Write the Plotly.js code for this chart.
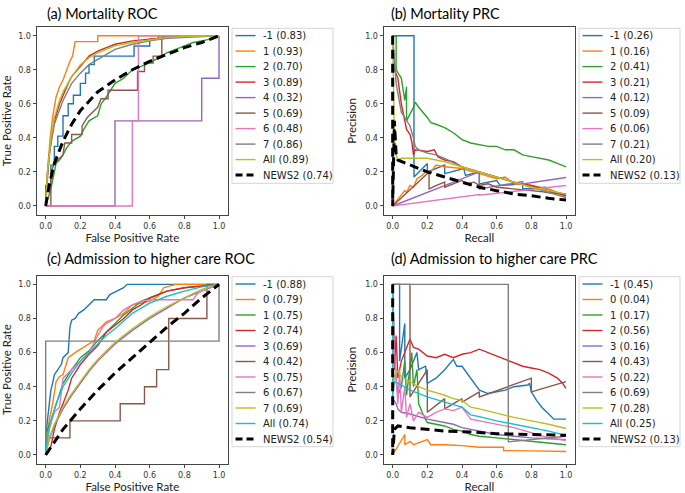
<!DOCTYPE html>
<html>
<head>
<meta charset="utf-8">
<script src="https://cdn.plot.ly/plotly-3.0.1.min.js"></script>
<style>
  body { margin: 0; background: #fff; }
  #chart { width: 685px; height: 493px; }
</style>
</head>
<body>
<div id="chart"></div>
<script>
// matplotlib tab10
const tab10 = ['#1f77b4', '#ff7f0e', '#2ca02c', '#d62728', '#9467bd', '#8c564b', '#e377c2', '#7f7f7f', '#bcbd22', '#17becf'];

// ---- (a) Mortality ROC : [fpr, tpr]
const labelsA = ['-1', '1', '2', '3', '4', '5', '6', '7', 'All', 'NEWS2'];
const aucA = [0.83, 0.93, 0.70, 0.89, 0.32, 0.69, 0.48, 0.86, 0.89, 0.74];
const rocA_neg1 = [[0,0],[0,0.12],[0.03,0.12],[0.03,0.24],[0.05,0.24],[0.05,0.35],[0.07,0.35],[0.07,0.41],[0.1,0.41],[0.1,0.53],[0.13,0.53],[0.13,0.6],[0.16,0.6],[0.16,0.65],[0.2,0.65],[0.2,0.72],[0.23,0.72],[0.23,0.78],[0.25,0.78],[0.25,0.83],[0.28,0.83],[0.28,0.88],[0.51,0.88],[0.51,0.94],[0.6,0.94],[0.6,0.98],[0.65,0.98],[0.65,1],[1,1]];
const rocA_1 = [[0,0],[0.01,0.2],[0.025,0.39],[0.04,0.52],[0.06,0.64],[0.08,0.7],[0.1,0.74],[0.12,0.8],[0.14,0.85],[0.155,0.88],[0.17,0.965],[0.3,0.965],[0.3,1],[1,1]];
const rocA_2 = [[0,0],[0.03,0.1],[0.04,0.15],[0.05,0.2],[0.06,0.25],[0.08,0.27],[0.1,0.3],[0.12,0.34],[0.15,0.38],[0.2,0.41],[0.22,0.45],[0.25,0.5],[0.3,0.53],[0.32,0.6],[0.35,0.64],[0.4,0.72],[0.45,0.75],[0.5,0.8],[0.55,0.82],[0.6,0.84],[0.65,0.87],[0.7,0.9],[0.75,0.92],[0.8,0.94],[0.85,0.96],[0.9,0.97],[0.95,0.98],[1,1]];
const rocA_3 = [[0,0],[0.01,0.18],[0.03,0.38],[0.05,0.5],[0.08,0.6],[0.1,0.65],[0.13,0.72],[0.15,0.76],[0.18,0.8],[0.2,0.82],[0.25,0.88],[0.3,0.91],[0.35,0.93],[0.4,0.95],[0.5,0.97],[0.6,0.98],[0.7,0.99],[0.8,1],[1,1]];
const rocA_4 = [[0,0],[0.4,0],[0.4,0.5],[0.9,0.5],[0.9,0.75],[1,0.75],[1,1]];
const rocA_5 = [[0,0],[0.03,0],[0.03,0.2],[0.05,0.25],[0.1,0.3],[0.11,0.37],[0.15,0.37],[0.15,0.42],[0.21,0.42],[0.21,0.47],[0.24,0.52],[0.3,0.58],[0.32,0.63],[0.36,0.63],[0.36,0.68],[0.53,0.68],[0.53,0.79],[0.57,0.79],[0.57,0.84],[0.62,0.84],[0.62,0.88],[0.67,0.88],[0.67,0.98],[0.68,1],[1,1]];
const rocA_6 = [[0,0],[0.5,0],[0.5,0.5],[0.535,0.5],[0.535,1],[1,1]];
const rocA_7 = [[0,0],[0.02,0.3],[0.05,0.48],[0.1,0.62],[0.15,0.72],[0.2,0.78],[0.25,0.83],[0.3,0.86],[0.4,0.92],[0.5,0.95],[0.6,0.97],[0.7,0.985],[1,1]];
const rocA_all = [[0,0],[0.01,0.2],[0.03,0.4],[0.05,0.52],[0.08,0.62],[0.1,0.67],[0.15,0.76],[0.2,0.83],[0.25,0.87],[0.3,0.9],[0.4,0.94],[0.5,0.96],[0.6,0.975],[0.7,0.99],[0.8,0.995],[1,1]];
const rocA_news = [[0,0],[0.02,0.12],[0.05,0.25],[0.1,0.38],[0.15,0.48],[0.2,0.56],[0.3,0.67],[0.4,0.74],[0.5,0.8],[0.6,0.85],[0.7,0.89],[0.8,0.93],[0.9,0.96],[1,1]];

// ---- (b) Mortality PRC : [recall, precision]
const aucB = [0.26, 0.16, 0.41, 0.21, 0.12, 0.09, 0.06, 0.21, 0.20, 0.13];
const prcB_neg1 = [[0,1],[0.123,1],[0.123,0.17],[0.2,0.25],[0.2,0.2],[0.3,0.24],[0.3,0.19],[0.41,0.22],[0.42,0.18],[0.5,0.2],[0.5,0.13],[0.6,0.15],[0.62,0.12],[0.75,0.13],[0.75,0.1],[0.88,0.11],[0.88,0.08],[1,0.07]];
const prcB_1 = [[0,0],[0.03,0.04],[0.05,0.07],[0.07,0.09],[0.08,0.08],[0.1,0.12],[0.12,0.11],[0.14,0.16],[0.17,0.18],[0.2,0.21],[0.22,0.2],[0.25,0.24],[0.3,0.23],[0.4,0.22],[0.5,0.19],[0.6,0.16],[0.65,0.17],[0.7,0.13],[0.8,0.12],[0.9,0.1],[1,0.06]];
const prcB_2 = [[0,1],[0.02,1],[0.02,0.8],[0.05,0.75],[0.07,0.62],[0.08,0.7],[0.08,0.5],[0.12,0.58],[0.13,0.61],[0.15,0.58],[0.2,0.52],[0.22,0.49],[0.25,0.48],[0.3,0.46],[0.35,0.43],[0.4,0.39],[0.45,0.37],[0.5,0.36],[0.55,0.35],[0.6,0.35],[0.65,0.33],[0.7,0.33],[0.75,0.3],[0.8,0.29],[0.85,0.28],[0.9,0.27],[0.95,0.25],[1,0.23]];
const prcB_3 = [[0,1],[0.01,0.8],[0.03,0.75],[0.05,0.6],[0.07,0.5],[0.08,0.45],[0.1,0.42],[0.11,0.38],[0.12,0.3],[0.13,0.33],[0.2,0.32],[0.24,0.33],[0.26,0.29],[0.3,0.27],[0.35,0.26],[0.4,0.23],[0.5,0.2],[0.6,0.17],[0.7,0.14],[0.8,0.12],[0.9,0.09],[1,0.06]];
const prcB_4 = [[0,0],[0.5,0.2],[0.5,0.1],[0.75,0.143],[0.75,0.13],[1,0.167]];
const prcB_5 = [[0,0],[0.21,0.2],[0.21,0.1],[0.25,0.12],[0.3,0.14],[0.3,0.11],[0.35,0.13],[0.4,0.15],[0.42,0.13],[0.47,0.14],[0.5,0.12],[0.55,0.13],[0.6,0.11],[0.7,0.1],[0.8,0.09],[0.9,0.08],[1,0.07]];
const prcB_6 = [[0,0.3],[0,0],[0.5,0.067],[0.5,0.063],[1,0.12]];
const prcB_7 = [[0,1],[0.02,0.72],[0.05,0.55],[0.08,0.5],[0.1,0.47],[0.12,0.4],[0.13,0.35],[0.15,0.33],[0.2,0.31],[0.25,0.3],[0.3,0.28],[0.4,0.23],[0.5,0.2],[0.6,0.17],[0.7,0.14],[0.8,0.11],[0.9,0.08],[1,0.05]];
const prcB_all = [[0,1],[0.01,0.4],[0.02,0.3],[0.03,0.27],[0.05,0.28],[0.1,0.28],[0.15,0.28],[0.2,0.28],[0.3,0.26],[0.4,0.23],[0.5,0.2],[0.6,0.17],[0.7,0.14],[0.8,0.11],[0.9,0.09],[1,0.07]];
const prcB_news = [[0,1],[0,0],[0.01,0.5],[0.02,0.3],[0.03,0.27],[0.1,0.24],[0.2,0.2],[0.3,0.17],[0.4,0.14],[0.5,0.11],[0.6,0.09],[0.7,0.07],[0.8,0.06],[0.9,0.045],[1,0.035]];

// ---- (c) Admission to higher care ROC
const labelsC = ['-1', '0', '1', '2', '3', '4', '5', '6', '7', 'All', 'NEWS2'];
const aucC = [0.88, 0.79, 0.75, 0.74, 0.69, 0.42, 0.75, 0.67, 0.69, 0.74, 0.54];
const rocC_neg1 = [[0,0],[0,0.1],[0.01,0.2],[0.02,0.3],[0.03,0.38],[0.04,0.42],[0.05,0.47],[0.07,0.5],[0.09,0.53],[0.1,0.57],[0.13,0.6],[0.14,0.75],[0.15,0.79],[0.17,0.8],[0.19,0.83],[0.22,0.85],[0.25,0.88],[0.28,0.91],[0.35,0.91],[0.37,0.94],[0.41,0.96],[0.45,0.98],[0.47,1],[1,1]];
const rocC_0 = [[0,0],[0.01,0.13],[0.02,0.2],[0.04,0.3],[0.06,0.43],[0.08,0.46],[0.1,0.47],[0.12,0.53],[0.13,0.57],[0.17,0.6],[0.2,0.62],[0.25,0.65],[0.28,0.67],[0.3,0.73],[0.35,0.78],[0.4,0.8],[0.45,0.83],[0.48,0.86],[0.5,0.88],[0.6,0.9],[0.65,0.93],[0.68,0.98],[0.75,1],[1,1]];
const rocC_1 = [[0,0],[0,0.12],[0.03,0.2],[0.06,0.3],[0.1,0.42],[0.15,0.5],[0.2,0.57],[0.25,0.61],[0.3,0.67],[0.35,0.72],[0.4,0.77],[0.45,0.82],[0.5,0.86],[0.55,0.9],[0.6,0.92],[0.7,0.96],[0.8,0.98],[0.9,0.99],[1,1]];
const rocC_2 = [[0,0],[0.03,0.05],[0.05,0.15],[0.08,0.25],[0.1,0.3],[0.13,0.38],[0.15,0.45],[0.2,0.53],[0.25,0.59],[0.3,0.64],[0.35,0.72],[0.4,0.76],[0.45,0.8],[0.5,0.85],[0.55,0.88],[0.6,0.92],[0.7,0.96],[0.8,0.98],[1,1]];
const rocC_3 = [[0,0],[0.02,0.09],[0.05,0.17],[0.1,0.27],[0.15,0.35],[0.2,0.42],[0.25,0.49],[0.3,0.55],[0.35,0.6],[0.4,0.65],[0.5,0.73],[0.6,0.8],[0.7,0.86],[0.8,0.92],[0.9,0.96],[1,1]];
const rocC_4 = [[0,0],[0,0.1],[0.14,0.1],[0.14,0.2],[0.43,0.2],[0.43,0.3],[0.57,0.3],[0.57,0.4],[0.64,0.4],[0.64,0.5],[0.71,0.5],[0.71,0.8],[0.93,0.8],[0.93,1],[1,1]];
const rocC_5 = [[0,0],[0.02,0.15],[0.05,0.25],[0.08,0.28],[0.1,0.45],[0.15,0.5],[0.2,0.55],[0.25,0.6],[0.3,0.7],[0.33,0.75],[0.35,0.77],[0.4,0.8],[0.45,0.85],[0.5,0.88],[0.55,0.9],[0.6,0.91],[0.85,0.91],[0.88,0.95],[0.92,0.97],[1,1]];
const rocC_6 = [[0,0],[0,0.667],[1,0.667],[1,1]];
const rocC_7 = [[0,0],[0.02,0.1],[0.05,0.18],[0.1,0.28],[0.15,0.36],[0.2,0.43],[0.25,0.5],[0.3,0.56],[0.35,0.61],[0.4,0.66],[0.5,0.74],[0.6,0.81],[0.7,0.87],[0.8,0.92],[0.9,0.97],[1,1]];
const rocC_all = [[0,0],[0.01,0.1],[0.03,0.2],[0.06,0.3],[0.1,0.4],[0.15,0.48],[0.2,0.55],[0.25,0.6],[0.3,0.65],[0.35,0.7],[0.4,0.74],[0.5,0.83],[0.6,0.89],[0.7,0.93],[0.8,0.96],[0.9,0.985],[1,1]];
const rocC_news = [[0,0],[0.1,0.15],[0.2,0.27],[0.3,0.38],[0.4,0.48],[0.5,0.57],[0.6,0.66],[0.7,0.75],[0.8,0.83],[0.9,0.92],[1,1]];

// ---- (d) Admission to higher care PRC
const aucD = [0.45, 0.04, 0.17, 0.56, 0.16, 0.43, 0.22, 0.69, 0.28, 0.25, 0.13];
const prcD_neg1 = [[0,1],[0.04,1],[0.04,0.55],[0.07,0.77],[0.07,0.45],[0.1,0.5],[0.14,0.6],[0.15,0.5],[0.19,0.52],[0.2,0.42],[0.25,0.45],[0.3,0.5],[0.35,0.56],[0.37,0.52],[0.4,0.52],[0.45,0.45],[0.5,0.38],[0.55,0.36],[0.6,0.37],[0.65,0.38],[0.7,0.4],[0.78,0.41],[0.79,0.42],[0.8,0.37],[0.83,0.32],[0.86,0.28],[0.9,0.24],[0.93,0.21],[1,0.21]];
const prcD_0 = [[0,0],[0.07,0.12],[0.07,0.06],[0.1,0.08],[0.12,0.06],[0.2,0.09],[0.22,0.06],[0.3,0.06],[0.4,0.055],[0.5,0.045],[0.64,0.045],[0.64,0.026],[0.8,0.024],[0.9,0.02],[1,0.02]];
const prcD_1 = [[0,1],[0.01,0.6],[0.02,0.45],[0.03,0.35],[0.05,0.4],[0.07,0.55],[0.08,0.35],[0.1,0.5],[0.11,0.6],[0.12,0.4],[0.14,0.5],[0.15,0.3],[0.17,0.25],[0.2,0.19],[0.25,0.18],[0.3,0.17],[0.35,0.15],[0.4,0.14],[0.45,0.12],[0.5,0.11],[0.6,0.1],[0.7,0.09],[0.8,0.08],[0.9,0.07],[1,0.06]];
const prcD_2 = [[0,1],[0.01,0.5],[0.02,0.7],[0.03,0.45],[0.05,0.55],[0.07,0.6],[0.1,0.68],[0.12,0.63],[0.15,0.62],[0.2,0.58],[0.25,0.57],[0.3,0.59],[0.35,0.57],[0.4,0.59],[0.45,0.6],[0.5,0.62],[0.55,0.6],[0.6,0.58],[0.65,0.56],[0.7,0.54],[0.75,0.52],[0.8,0.51],[0.85,0.5],[0.9,0.48],[0.95,0.45],[0.98,0.42],[1,0.39]];
const prcD_3 = [[0,1],[0,0.33],[0.02,0.3],[0.03,0.27],[0.05,0.25],[0.1,0.24],[0.2,0.21],[0.3,0.19],[0.35,0.18],[0.4,0.16],[0.5,0.14],[0.6,0.12],[0.7,0.11],[0.8,0.1],[0.9,0.095],[1,0.09]];
const prcD_4 = [[0,1],[0.1,1],[0.1,0.34],[0.2,0.5],[0.2,0.25],[0.3,0.33],[0.3,0.27],[0.4,0.33],[0.4,0.31],[0.5,0.37],[0.5,0.34],[0.8,0.45],[0.8,0.37],[1,0.43]];
const prcD_5 = [[0,1],[0.01,0.6],[0.02,0.45],[0.03,0.3],[0.04,0.5],[0.05,0.25],[0.07,0.4],[0.08,0.22],[0.1,0.3],[0.12,0.2],[0.15,0.25],[0.2,0.22],[0.25,0.25],[0.3,0.27],[0.35,0.26],[0.4,0.28],[0.45,0.21],[0.5,0.2],[0.6,0.18],[0.7,0.16],[0.8,0.13],[0.9,0.1],[1,0.085]];
const prcD_6 = [[0,1],[0.667,1],[0.667,0.077],[1,0.11]];
const prcD_7 = [[0,1],[0,0.4],[0.02,0.5],[0.05,0.46],[0.1,0.43],[0.15,0.4],[0.2,0.38],[0.3,0.35],[0.35,0.33],[0.4,0.32],[0.45,0.28],[0.5,0.27],[0.6,0.245],[0.7,0.22],[0.8,0.2],[0.9,0.18],[1,0.155]];
const prcD_all = [[0,1],[0,0.35],[0.01,0.43],[0.05,0.41],[0.1,0.38],[0.15,0.36],[0.2,0.34],[0.3,0.31],[0.35,0.295],[0.4,0.28],[0.45,0.235],[0.5,0.225],[0.6,0.2],[0.7,0.18],[0.8,0.16],[0.9,0.14],[1,0.115]];
const prcD_news = [[0,1],[0,0],[0.01,0.15],[0.03,0.17],[0.1,0.16],[0.2,0.15],[0.3,0.14],[0.45,0.135],[0.6,0.125],[0.8,0.12],[1,0.115]];

// パネル定義（位置はピクセルで指定）
const W = 685, H = 493;
const panels = [
    { id: '', title: '(a) Mortality ROC', xt: 'False Positive Rate', yt: 'True Positive Rate',
      curves: [rocA_neg1, rocA_1, rocA_2, rocA_3, rocA_4, rocA_5, rocA_6, rocA_7, rocA_all, rocA_news],
      labels: labelsA, auc: aucA, px: [37, 227.7], py: [27.2, 214.5], tx: 45, ty: 13, leg: [232, 333, 28.3, 183.3] },
    { id: '2', title: '(b) Mortality PRC', xt: 'Recall', yt: 'Precision',
      curves: [prcB_neg1, prcB_1, prcB_2, prcB_3, prcB_4, prcB_5, prcB_6, prcB_7, prcB_all, prcB_news],
      labels: labelsA, auc: aucB, px: [384, 574.7], py: [27.2, 214.5], tx: 389, ty: 13, leg: [579, 680, 28.3, 183.3] },
    { id: '3', title: '(c) Admission to higher care ROC', xt: 'False Positive Rate', yt: 'True Positive Rate',
      curves: [rocC_neg1, rocC_0, rocC_1, rocC_2, rocC_3, rocC_4, rocC_5, rocC_6, rocC_7, rocC_all, rocC_news],
      labels: labelsC, auc: aucC, px: [37, 227.7], py: [275.8, 463.5], tx: 45, ty: 258, leg: [232, 333, 276.7, 446.7] },
    { id: '4', title: '(d) Admission to higher care PRC', xt: 'Recall', yt: 'Precision',
      curves: [prcD_neg1, prcD_0, prcD_1, prcD_2, prcD_3, prcD_4, prcD_5, prcD_6, prcD_7, prcD_all, prcD_news],
      labels: labelsC, auc: aucD, px: [384, 574.7], py: [275.8, 463.5], tx: 389, ty: 258, leg: [579, 680, 276.7, 446.7] }
];

const fx = v => v / W;
const fy = v => 1 - v / H;
const tickFont = { family: 'DejaVu Sans', size: 8, color: '#333' };
const labelFont = { family: 'Lato', size: 11.5, color: '#222' };

const traces = [];
const layout = {
    width: W, height: H,
    margin: { l: 0, r: 0, t: 0, b: 0 },
    paper_bgcolor: '#fff', plot_bgcolor: '#fff',
    showlegend: false,
    shapes: [], annotations: []
};

panels.forEach(p => {
    const n = p.curves.length;
    p.curves.forEach((pts, i) => {
        const isNews = i === n - 1;
        traces.push({
            x: pts.map(q => q[0]),
            y: pts.map(q => q[1]),
            xaxis: 'x' + p.id, yaxis: 'y' + p.id,
            type: 'scatter', mode: 'lines',
            line: isNews ? { color: '#000', width: 3, dash: '9px,5px' } : { color: tab10[i], width: 1.4 },
            hoverinfo: 'skip'
        });
    });

    const axBase = {
        range: [-0.05, 1.05], tickvals: [0, 0.2, 0.4, 0.6, 0.8, 1.0], tickformat: '.1f',
        showgrid: false, zeroline: false, showline: true, mirror: true,
        linecolor: '#444', linewidth: 1, ticks: 'outside', ticklen: 3.5, tickcolor: '#444',
        tickfont: tickFont, fixedrange: true
    };
    layout['xaxis' + p.id] = Object.assign({}, axBase, {
        domain: [fx(p.px[0]), fx(p.px[1])], anchor: 'y' + p.id,
        title: { text: p.xt, font: labelFont, standoff: 2 }
    });
    layout['yaxis' + p.id] = Object.assign({}, axBase, {
        domain: [fy(p.py[1]), fy(p.py[0])], anchor: 'x' + p.id,
        title: { text: p.yt, font: labelFont, standoff: 6 }
    });

    // パネルタイトル
    layout.annotations.push({
        text: p.title, xref: 'paper', yref: 'paper', x: fx(p.tx), y: fy(p.ty),
        xanchor: 'left', yanchor: 'middle', showarrow: false,
        font: { family: 'Lato', size: 14.5, color: '#000' }
    });

    // 凡例（手描き）
    const [lx0, lx1, ly0, ly1] = p.leg;
    layout.shapes.push({
        type: 'rect', xref: 'paper', yref: 'paper',
        x0: fx(lx0), x1: fx(lx1), y0: fy(ly1), y1: fy(ly0),
        line: { color: '#d5d5d5', width: 1 }, fillcolor: 'rgba(255,255,255,0.8)'
    });
    p.labels.forEach((lab, i) => {
        const yc = ly0 + 7.3 + i * 15.5;
        const isNews = i === n - 1;
        layout.shapes.push({
            type: 'line', xref: 'paper', yref: 'paper',
            x0: fx(lx0 + 3.5), x1: fx(lx0 + 23.5), y0: fy(yc), y1: fy(yc),
            line: isNews ? { color: '#000', width: 3, dash: '7px,4px' } : { color: tab10[i], width: 1.4 }
        });
        layout.annotations.push({
            text: `${lab} (${p.auc[i].toFixed(2)})`, xref: 'paper', yref: 'paper',
            x: fx(lx0 + 28.5), y: fy(yc), xanchor: 'left', yanchor: 'middle', showarrow: false,
            font: { family: 'DejaVu Sans', size: 10, color: '#222' }
        });
    });
});

Plotly.newPlot('chart', traces, layout, { displayModeBar: false, staticPlot: true });
</script>
</body>
</html>
